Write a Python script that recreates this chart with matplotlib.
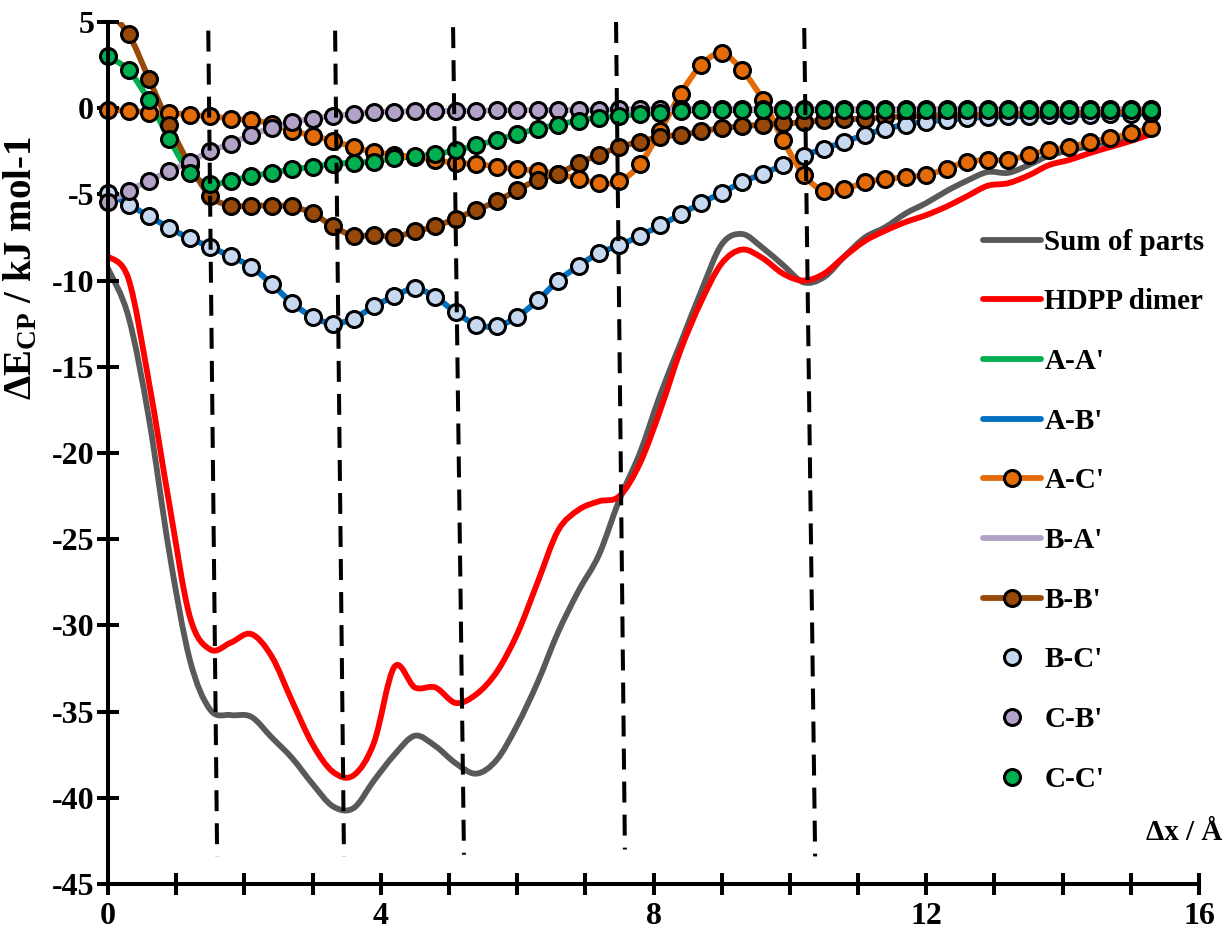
import matplotlib
matplotlib.use("Agg")
import matplotlib.pyplot as plt
from matplotlib.path import Path
from matplotlib.patches import PathPatch
from matplotlib.lines import Line2D
from matplotlib.ticker import MultipleLocator, NullFormatter

plt.rcParams['font.family'] = ['Liberation Serif', 'DejaVu Serif']
plt.rcParams['font.weight'] = 'bold'
plt.rcParams['axes.unicode_minus'] = False
plt.rcParams['mathtext.fontset'] = 'custom'
plt.rcParams['mathtext.rm'] = 'Liberation Serif:bold'
plt.rcParams['mathtext.bf'] = 'Liberation Serif:bold'
plt.rcParams['mathtext.it'] = 'Liberation Serif:bold'

# displacement grid (Angstrom)
dx = [0.0, 0.3, 0.6, 0.9, 1.2, 1.5, 1.8, 2.1, 2.4, 2.7, 3.0, 3.3, 3.6, 3.9, 4.2, 4.5,
      4.8, 5.1, 5.4, 5.7, 6.0, 6.3, 6.6, 6.9, 7.2, 7.5, 7.8, 8.1, 8.4, 8.7, 9.0, 9.3,
      9.6, 9.9, 10.2, 10.5, 10.8, 11.1, 11.4, 11.7, 12.0, 12.3, 12.6, 12.9, 13.2, 13.5,
      13.8, 14.1, 14.4, 14.7, 15.0, 15.3]

sum_parts = [-9.3, -12.1, -18.0, -25.8, -32.0, -34.9, -35.2, -35.3, -36.5, -37.7, -39.2,
             -40.5, -40.6, -39.0, -37.5, -36.4, -37.0, -38.0, -38.6, -37.8, -35.8, -33.3,
             -30.4, -28.0, -25.9, -22.7, -20.0, -16.6, -13.6, -10.6, -7.9, -7.3, -8.1,
             -9.1, -10.1, -9.8, -8.6, -7.5, -6.9, -6.1, -5.5, -4.8, -4.2, -3.7, -3.75,
             -3.3, -2.75, -2.45, -2.2, -1.9, -1.6, -1.2]

hdpp = [-8.6, -9.9, -15.9, -23.0, -29.5, -31.4, -31.0, -30.5, -31.8, -34.4, -36.9, -38.5,
        -38.7, -36.8, -32.4, -33.6, -33.6, -34.5, -34.0, -32.7, -30.5, -27.5, -24.5,
        -23.3, -22.8, -22.5, -20.6, -17.5, -14.0, -11.2, -9.0, -8.2, -8.7, -9.6, -10.0,
        -9.6, -8.6, -7.7, -7.1, -6.6, -6.2, -5.7, -5.1, -4.5, -4.35, -3.9, -3.3, -3.0,
        -2.6, -2.25, -1.9, -1.5]

aa = [3.0, 2.2, 0.45, -1.8, -3.75, -4.4, -4.2, -3.95, -3.75, -3.55, -3.4, -3.25, -3.15,
      -3.1, -2.9, -2.8, -2.65, -2.45, -2.15, -1.85, -1.5, -1.2, -0.95, -0.72, -0.55,
      -0.45, -0.35, -0.26, -0.16, -0.1, -0.1, -0.1, -0.1, -0.1, -0.1, -0.1, -0.1, -0.1,
      -0.1, -0.1, -0.1, -0.1, -0.1, -0.1, -0.1, -0.1, -0.1, -0.1, -0.1, -0.1, -0.1, -0.1]

ab = [-4.9, -5.6, -6.25, -6.95, -7.55, -8.05, -8.6, -9.2, -10.2, -11.3, -12.1, -12.5,
      -12.2, -11.5, -10.9, -10.45, -10.95, -11.85, -12.55, -12.65, -12.1, -11.15, -10.0,
      -9.15, -8.4, -7.95, -7.4, -6.8, -6.15, -5.5, -4.9, -4.3, -3.8, -3.3, -2.75, -2.35,
      -1.95, -1.55, -1.2, -0.95, -0.78, -0.68, -0.58, -0.5, -0.47, -0.45, -0.42, -0.4,
      -0.37, -0.35, -0.33, -0.3]

ac = [-0.1, -0.14, -0.25, -0.27, -0.38, -0.48, -0.6, -0.7, -0.9, -1.3, -1.6, -1.9, -2.25,
      -2.55, -2.7, -2.85, -3.0, -3.18, -3.23, -3.4, -3.55, -3.62, -3.82, -4.1, -4.35,
      -4.25, -3.25, -1.3, 0.85, 2.5, 3.2, 2.2, 0.5, -1.85, -3.85, -4.8, -4.7, -4.3, -4.12,
      -4.0, -3.88, -3.5, -3.1, -3.0, -3.0, -2.72, -2.43, -2.27, -1.95, -1.75, -1.45, -1.15]

ba = [-5.45, -4.8, -4.2, -3.65, -3.1, -2.5, -2.05, -1.55, -1.15, -0.82, -0.6, -0.45,
      -0.35, -0.22, -0.2, -0.18, -0.17, -0.15, -0.14, -0.13, -0.12, -0.11, -0.1, -0.09,
      -0.08, -0.07, -0.06, -0.05, -0.05, -0.05, -0.05, -0.05, -0.05, -0.05, -0.05, -0.05,
      -0.05, -0.05, -0.05, -0.05, -0.05, -0.05, -0.05, -0.05, -0.05, -0.05, -0.05, -0.05,
      -0.05, -0.05, -0.05, -0.05]

bb = [5.6, 4.3, 1.7, -1.0, -3.3, -5.1, -5.65, -5.65, -5.65, -5.7, -6.1, -6.85, -7.4,
      -7.35, -7.45, -7.15, -6.85, -6.4, -5.9, -5.4, -4.75, -4.15, -3.8, -3.2, -2.7, -2.25,
      -1.95, -1.65, -1.55, -1.35, -1.15, -1.05, -0.95, -0.88, -0.82, -0.7, -0.65, -0.6,
      -0.53, -0.47, -0.45, -0.42, -0.4, -0.37, -0.35, -0.33, -0.3, -0.28, -0.26, -0.24,
      -0.22, -0.2]

# symmetric partners sit on the same curves
bc = list(ab)
cb = list(ba)
cc = list(aa)

# dashed guide lines (Excel shapes, slightly slanted)
guide_x_top = [1.47, 3.33, 5.06, 7.45, 10.21]
guide_x_bot = [1.60, 3.46, 5.22, 7.58, 10.37]
guide_y_top = [4.5, 4.5, 4.7, 5.0, 4.65]
guide_y_bot = [-43.4, -43.4, -43.3, -43.0, -43.4]


def smooth_path(xs, ys):
    # Excel style smoothed line: cubic bezier through every data point
    pts = list(zip(xs, ys))
    n = len(pts)
    verts = [pts[0]]
    codes = [Path.MOVETO]
    for i in range(n - 1):
        p0 = pts[max(i - 1, 0)]
        p1 = pts[i]
        p2 = pts[i + 1]
        p3 = pts[min(i + 2, n - 1)]
        c1 = (p1[0] + (p2[0] - p0[0]) / 6, p1[1] + (p2[1] - p0[1]) / 6)
        c2 = (p2[0] - (p3[0] - p1[0]) / 6, p2[1] - (p3[1] - p1[1]) / 6)
        verts += [c1, c2, p2]
        codes += [Path.CURVE4] * 3
    return Path(verts, codes)


fig = plt.figure(figsize=(12.25, 9.32), dpi=100)
ax = fig.add_axes([0.0882, 0.0515, 0.8906, 0.9249])

lw = 4.2
ms = 11.5
mew = 2.2

# (label, values, line colour or None, marker fill or None)
series = [
    ('Sum of parts', sum_parts, '#595959', None),
    ('HDPP dimer', hdpp, '#FF0000', None),
    ("A-A'", aa, '#00B050', None),
    ("A-B'", ab, '#0070C0', None),
    ("A-C'", ac, '#E36C09', '#E36C09'),
    ("B-A'", ba, '#B3A2C7', None),
    ("B-B'", bb, '#984807', '#984807'),
    ("B-C'", bc, None, '#C6D9F1'),
    ("C-B'", cb, None, '#B3A2C7'),
    ("C-C'", cc, None, '#00B050'),
]

handles = []
for label, vals, lc, mc in series:
    if lc is not None:
        ax.add_patch(PathPatch(smooth_path(dx, vals), fill=False, edgecolor=lc, lw=lw,
                               capstyle='round', joinstyle='round'))
    if mc is not None:
        ax.plot(dx, vals, ls='none', marker='o', ms=ms, mfc=mc, mec='black', mew=mew,
                clip_on=(label == "B-B'"))
    handles.append(Line2D([], [], color=lc if lc else 'none', lw=lw if lc else 0,
                          marker='o' if mc else None, ms=ms, mfc=mc, mec='black',
                          mew=mew, label=label, solid_capstyle='round'))

for xt, xb, yt, yb in zip(guide_x_top, guide_x_bot, guide_y_top, guide_y_bot):
    ax.plot([xt, xb], [yt, yb], color='black', lw=2.9, ls=(0, (5.2, 3.0)),
            zorder=10, clip_on=False)

ax.set_xlim(0, 16)
ax.set_ylim(-45, 5)
ax.xaxis.set_major_locator(MultipleLocator(4))
ax.xaxis.set_minor_locator(MultipleLocator(1))
ax.xaxis.set_minor_formatter(NullFormatter())
ax.yaxis.set_major_locator(MultipleLocator(5))

for side in ['top', 'right']:
    ax.spines[side].set_visible(False)
for side in ['left', 'bottom']:
    ax.spines[side].set_linewidth(2.9)
    ax.spines[side].set_zorder(5)

ax.tick_params(which='both', direction='inout', length=16, width=2.9, labelsize=23)
ax.tick_params(axis='x', pad=5)
ax.tick_params(axis='y', pad=2)

ax.text(1.021, 0.06, 'Δx / Å', transform=ax.transAxes, ha='right', va='center',
        fontsize=21, fontweight='bold')
fig.text(0.0175, 0.712, r'ΔE$_{\mathrm{CP}}$ / kJ mol-1', rotation=90, ha='center',
         va='center', fontsize=28, fontweight='bold')

ax.legend(handles=handles, loc='center left', bbox_to_anchor=(0.802, 0.433),
          frameon=False, fontsize=21, handlelength=2.0, handletextpad=0.1,
          labelspacing=1.12, borderpad=0, borderaxespad=0, numpoints=1)

fig.savefig('out.png', dpi=100)
